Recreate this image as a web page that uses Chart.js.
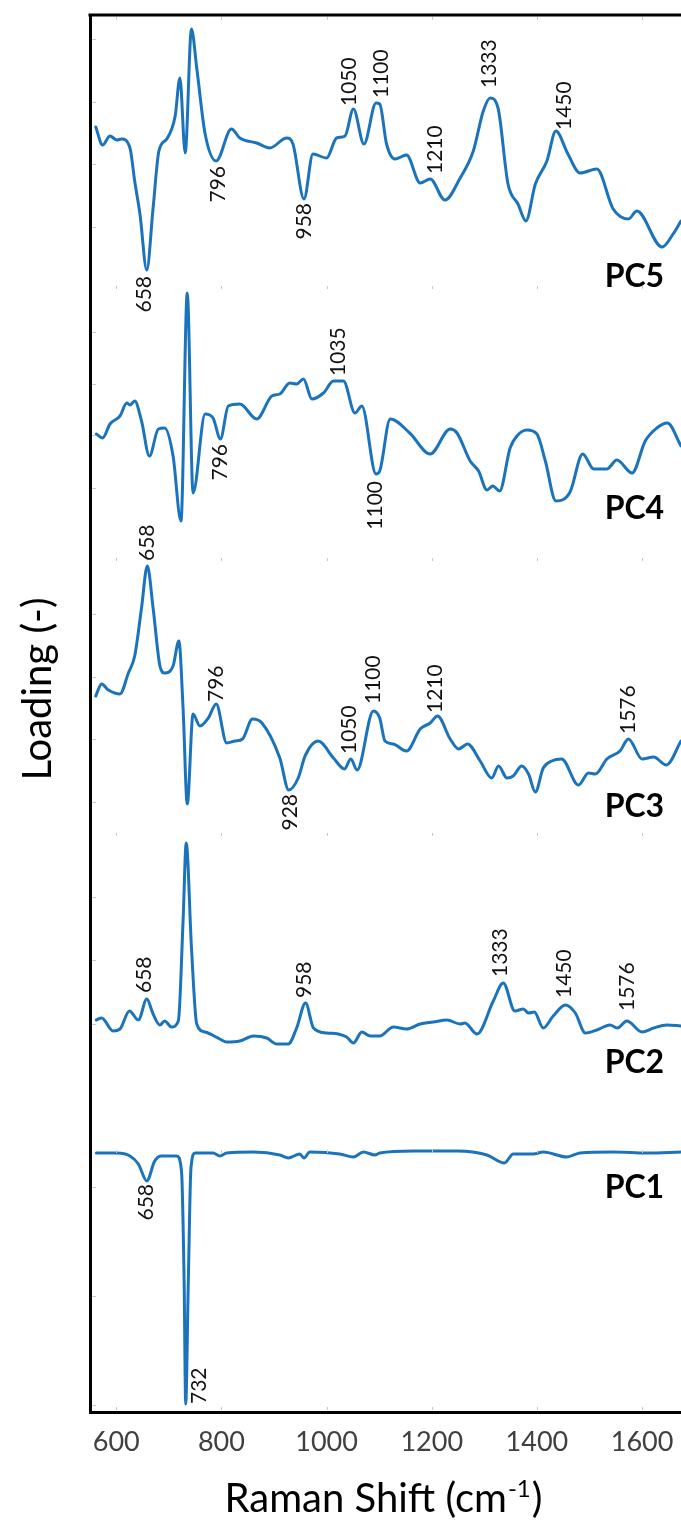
<!DOCTYPE html>
<html><head><meta charset="utf-8">
<script src="https://cdn.jsdelivr.net/npm/chart.js@4.4.1/dist/chart.umd.min.js"></script>
<style>html,body{margin:0;padding:0;background:#fff;overflow:hidden}canvas{display:block}</style>
</head><body>
<canvas id="c" width="681" height="1521"></canvas>
<script>
// ---- data (Raman shift in cm^-1, loadings in arbitrary units) ----
const xTickValues = [600, 800, 1000, 1200, 1400, 1600];

const xPC5 = [561,574,588,601,610,626,635,645,658,670,681,696,712,721,731,743,753,769,790,819,835,867,892,924,936,957,974,1000,1019,1035,1051,1071,1094,1101,1114,1130,1152,1178,1197,1225,1254,1279,1298,1311,1326,1345,1364,1379,1397,1419,1436,1459,1482,1514,1545,1574,1590,1638,1659,1674];
const yPC5 = [14,-4,5,1,2,-7,-40,-73,-129,-67,-10,2,25,63,-12,112,73,7,-20,12,3,-2,-7,3,-3,-58,-13,-17,3,5,32,-3,38,37,-3,-18,-14,-42,-38,-59,-37,-10,30,43,33,-43,-63,-80,-43,-20,10,-13,-32,-28,-68,-78,-70,-106,-93,-80];

const xPC4 = [562,574,588,607,620,626,635,648,663,680,692,708,723,735,746,769,784,798,813,835,867,896,911,930,943,956,972,994,1013,1032,1054,1067,1094,1101,1121,1158,1197,1235,1248,1273,1289,1305,1316,1329,1349,1362,1381,1400,1416,1436,1463,1487,1508,1533,1552,1581,1606,1628,1648,1674];
const yPC4 = [-3,-7,7,15,28,26,30,10,-25,2,3,-25,-90,138,-62,17,13,-8,25,27,12,35,37,48,47,52,32,38,50,50,18,25,-43,-40,12,-2,-23,2,-2,-30,-40,-59,-55,-60,-17,-5,1,-3,-30,-70,-61,-23,-38,-38,-29,-42,-10,3,8,-15];

const xPC3 = [561,572,585,607,623,635,648,659,670,683,692,708,719,727,735,746,759,775,790,810,826,840,859,877,911,928,946,959,984,1013,1034,1046,1058,1089,1101,1111,1127,1152,1178,1197,1211,1235,1251,1268,1292,1314,1327,1343,1355,1371,1384,1397,1412,1428,1447,1479,1498,1511,1533,1558,1574,1600,1622,1646,1674];
const yPC3 = [5,17,11,7,28,45,93,135,93,35,28,35,60,-7,-103,-13,-25,-17,-3,-42,-40,-38,-18,-22,-57,-89,-77,-55,-40,-57,-68,-58,-69,-10,-17,-40,-43,-50,-28,-22,-15,-38,-48,-43,-60,-77,-65,-77,-75,-65,-73,-91,-67,-60,-58,-84,-72,-73,-58,-50,-38,-58,-56,-64,-40];

const xPC2 = [562,572,594,607,625,642,658,670,683,692,705,718,727,733,743,753,769,797,810,835,861,886,905,927,943,960,975,1000,1022,1038,1051,1067,1083,1101,1127,1152,1178,1203,1229,1254,1263,1286,1317,1336,1358,1374,1384,1395,1412,1431,1454,1473,1492,1514,1539,1553,1571,1600,1622,1647,1674];
const yPC2 = [3,5,-8,-6,12,3,24,9,-2,2,-4,2,102,180,75,-1,-9,-16,-19,-18,-13,-15,-21,-21,-5,20,-5,-10,-11,-14,-20,-9,-13,-13,-4,-6,-1,1,3,-1,0,-11,22,40,12,14,10,11,-5,7,18,10,-10,-7,-2,-5,2,-9,-5,-2,-3];

const xPC1 = [562,601,626,642,658,673,686,715,724,729,732,737,742,750,784,797,810,861,911,927,949,957,968,1025,1051,1070,1092,1101,1165,1248,1305,1338,1355,1393,1412,1457,1482,1546,1609,1674];
const yPC1 = [1,1,-2,-10,-27,-7,-2,-2,-17,-127,-250,-127,-14,1,1,-2,1,2,-1,-4,0,-4,2,0,-3,2,-1,1,3,3,-1,-9,0,0,2,-3,1,2,1,2];

// peak annotations: [text, Raman shift, loading at text end, side]
const peaksPC5 = [['658',654,-135,'below'],['796',794,-25,'below'],['958',957,-62,'below'],['1050',1043,35,'above'],['1100',1104,43,'above'],['1210',1206,-33,'above'],['1333',1310,53,'above'],['1450',1452,11,'above']];
const peaksPC4 = [['796',797,-13,'below'],['1035',1022,55,'above'],['1100',1092,-50,'below']];
const peaksPC3 = [['658',658,140,'above'],['796',791,-1,'above'],['928',930,-93,'below'],['1050',1043,-53,'above'],['1100',1089,-3,'above'],['1210',1206,-12,'above'],['1576',1574,-33,'above']];
const peaksPC2 = [['658',653,30,'above'],['958',957,25,'above'],['1333',1331,46,'above'],['1450',1452,25,'above'],['1576',1571,12,'above']];
const peaksPC1 = [['658',656,-30,'below'],['732',758,-250,'above']];

// minor y tick values per panel
const yTicksPC5 = [102, 39, -23, -86];
const yTicksPC4 = [99, 47, -4, -57];
const yTicksPC3 = [87, 24, -38, -101];
const yTicksPC2 = [126, 63, -1];
const yTicksPC1 = [-33, -142, -251];

const panelNames = ['PC1','PC2','PC3','PC4','PC5'];

// ---- layout / style (bottom to top, Chart.js stacks last axis on top) ----
const panels = [
  {id:'yPC1', name:panelNames[0], xs:xPC1, ys:yPC1, peaks:peaksPC1, ticks:yTicksPC1, min:-258, max:6,   nameY:-34},
  {id:'yPC2', name:panelNames[1], xs:xPC2, ys:yPC2, peaks:peaksPC2, ticks:yTicksPC2, min:-125, max:192, nameY:-40},
  {id:'yPC3', name:panelNames[2], xs:xPC3, ys:yPC3, peaks:peaksPC3, ticks:yTicksPC3, min:-130, max:145, nameY:-106},
  {id:'yPC4', name:panelNames[3], xs:xPC4, ys:yPC4, peaks:peaksPC4, ticks:yTicksPC4, min:-125, max:147, nameY:-78},
  {id:'yPC5', name:panelNames[4], xs:xPC5, ys:yPC5, peaks:peaksPC5, ticks:yTicksPC5, min:-143, max:126, nameY:-136}
];
const LINE = '#1b74bb';
const FONT = 'Lato, "Open Sans", sans-serif';

const scales = {
  x: {
    type:'linear', position:'bottom', min:550, max:1674,
    grid:{display:false},
    border:{display:true, color:'#000', width:3},
    ticks:{stepSize:200, includeBounds:false, maxRotation:0, autoSkip:false,
      color:'#404040', font:{family:FONT, size:27}, padding:6,
      callback:v => String(v)},
    afterFit(s){ s.height = 109; }
  }
};
panels.forEach(p => {
  scales[p.id] = {
    type:'linear', position:'left', stack:'pcs', stackWeight:(p.max - p.min),
    min:p.min, max:p.max, offset:false,
    grid:{display:false, drawTicks:false},
    border:{display:true, color:'#000', width:3},
    ticks:{display:false},
    afterFit(s){ s.width = 0; }
  };
});

const datasets = panels.map(p => ({
  label:p.name, yAxisID:p.id, xAxisID:'x',
  data:p.xs.map((x,i) => ({x, y:p.ys[i]})),
  borderColor:LINE, borderWidth:3, pointRadius:0, fill:false,
  cubicInterpolationMode:'monotone', borderJoinStyle:'round', borderCapStyle:'round'
}));

const overlay = {
  id:'overlay',
  afterDraw(chart){
    const ctx = chart.ctx, ca = chart.chartArea, xs = chart.scales.x;
    ctx.save();
    // faint inner tick marks
    ctx.strokeStyle = '#c8c8c8'; ctx.lineWidth = 1;
    panels.forEach(p => {
      const ys = chart.scales[p.id];
      p.ticks.forEach(v => {
        const y = Math.round(ys.getPixelForValue(v)) + 0.5;
        ctx.beginPath(); ctx.moveTo(ca.left + 2, y); ctx.lineTo(ca.left + 6, y); ctx.stroke();
      });
      xTickValues.forEach(v => {
        const x = Math.round(xs.getPixelForValue(v)) + 0.5;
        ctx.beginPath(); ctx.moveTo(x, ys.top + 2); ctx.lineTo(x, ys.top + 5); ctx.stroke();
      });
    });
    xTickValues.forEach(v => {
      const x = Math.round(xs.getPixelForValue(v)) + 0.5;
      ctx.beginPath(); ctx.moveTo(x, ca.bottom - 2); ctx.lineTo(x, ca.bottom - 5); ctx.stroke();
    });
    // top frame line
    ctx.strokeStyle = '#000'; ctx.lineWidth = 3;
    ctx.beginPath(); ctx.moveTo(ca.left - 1.5, ca.top); ctx.lineTo(ca.right, ca.top); ctx.stroke();
    // peak annotations
    ctx.fillStyle = '#111';
    ctx.font = '21px ' + FONT;
    ctx.textBaseline = 'middle';
    panels.forEach(p => {
      const ys = chart.scales[p.id];
      p.peaks.forEach(([t, xv, yv, side]) => {
        ctx.save();
        ctx.translate(xs.getPixelForValue(xv), ys.getPixelForValue(yv));
        ctx.rotate(-Math.PI / 2);
        ctx.textAlign = side === 'above' ? 'left' : 'right';
        ctx.fillText(t, 0, 0);
        ctx.restore();
      });
    });
    // component names
    ctx.fillStyle = '#000';
    ctx.font = 'bold 32px ' + FONT;
    ctx.textAlign = 'right';
    panels.forEach(p => {
      const ys = chart.scales[p.id];
      ctx.fillText(p.name, xs.getPixelForValue(1642), ys.getPixelForValue(p.nameY));
    });
    // y title
    ctx.save();
    ctx.font = '40px ' + FONT;
    ctx.textAlign = 'center';
    ctx.translate(38, 689);
    ctx.rotate(-Math.PI / 2);
    ctx.fillText('Loading (-)', 0, 0);
    ctx.restore();
    // x title with superscript
    ctx.textBaseline = 'alphabetic';
    ctx.textAlign = 'left';
    const main = 'Raman Shift (cm', sup = '-1', close = ')';
    ctx.font = '40px ' + FONT; const w1 = ctx.measureText(main).width, w3 = ctx.measureText(close).width;
    ctx.font = '24px ' + FONT; const w2 = ctx.measureText(sup).width;
    const cx = (ca.left + ca.right) / 2 - 3, base = 1512;
    let x0 = cx - (w1 + w2 + w3) / 2;
    ctx.font = '40px ' + FONT; ctx.fillText(main, x0, base);
    ctx.font = '24px ' + FONT; ctx.fillText(sup, x0 + w1 + 1, base - 15);
    ctx.font = '40px ' + FONT; ctx.fillText(close, x0 + w1 + w2 + 2, base);
    ctx.restore();
  }
};

function draw(){
  new Chart(document.getElementById('c'), {
    type:'line',
    data:{datasets},
    options:{
      responsive:false, animation:false, devicePixelRatio:1,
      parsing:false, normalized:true,
      layout:{padding:{left:90, top:15, right:0, bottom:0}},
      plugins:{legend:{display:false}, tooltip:{enabled:false}},
      scales
    },
    plugins:[overlay]
  });
}
if (document.fonts && document.fonts.load) {
  Promise.all([document.fonts.load('21px Lato'), document.fonts.load('bold 32px Lato')]).then(draw, draw);
} else { draw(); }
</script>
</body></html>
